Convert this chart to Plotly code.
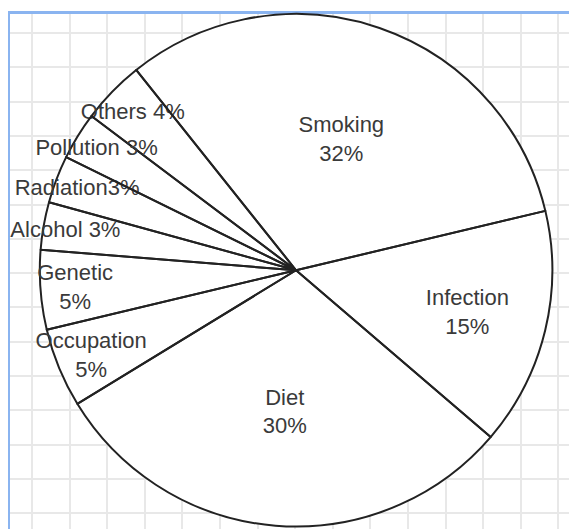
import plotly.graph_objects as go

categories = ["Others", "Smoking", "Infection", "Diet", "Occupation",
              "Genetic", "Alcohol", "Radiation", "Pollution"]
shares = [4, 32, 15, 30, 5, 5, 3, 3, 3]
separators = [" ", "<br>", "<br>", "<br>", "<br>", "<br>", " ", "", " "]

slice_text = [f"{c}{s}{v}%" for c, s, v in zip(categories, separators, shares)]

pie_domain = dict(x=[0, 0.995], y=[0.02, 1])

fig = go.Figure()

# invisible trace that carries the light grid behind the pie
fig.add_trace(go.Scatter(x=[0, 575], y=[0, 523], mode="markers",
                         marker=dict(opacity=0), hoverinfo="skip", showlegend=False))

# white disc underneath so the grid does not show inside the pie
fig.add_trace(go.Pie(
    values=[sum(shares)], labels=["all"], domain=pie_domain,
    marker=dict(colors=["white"], line=dict(width=0)),
    textinfo="none", hoverinfo="skip", showlegend=False, sort=False,
))

fig.add_trace(go.Pie(
    labels=categories,
    values=shares,
    text=slice_text,
    sort=False,
    direction="clockwise",
    rotation=-53,
    domain=pie_domain,
    marker=dict(colors=["rgba(255,255,255,0)"] * len(categories),
                line=dict(color="#222222", width=2)),
    texttemplate="%{text}",
    textposition="inside",
    insidetextorientation="horizontal",
    textfont=dict(family="Liberation Sans, Arial, sans-serif", size=22, color="#3a3a3a"),
    showlegend=False,
    hoverinfo="label+percent",
))

fig.update_layout(
    width=577, height=529,
    margin=dict(l=2, r=0, t=6, b=0),
    paper_bgcolor="white",
    plot_bgcolor="white",
    uniformtext=dict(minsize=22, mode="show"),
    xaxis=dict(range=[0, 575], dtick=37.6, tick0=22, showgrid=True, gridcolor="#e8e8e8",
               gridwidth=1.5, zeroline=False, showticklabels=False, ticks="",
               showline=True, linecolor="#8ab4f0", linewidth=3, side="top", mirror=False),
    yaxis=dict(range=[523, 0], dtick=34.3, tick0=19, showgrid=True, gridcolor="#e8e8e8",
               gridwidth=1.5, zeroline=False, showticklabels=False, ticks="",
               showline=True, linecolor="#8ab4f0", linewidth=3, mirror=False),
)

fig.write_html("out.html")
